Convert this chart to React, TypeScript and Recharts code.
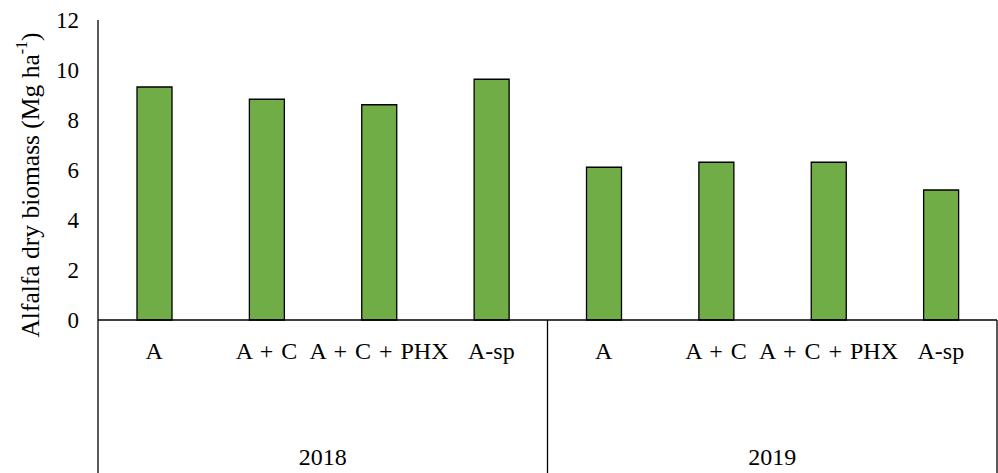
import { BarChart, Bar, XAxis, YAxis } from "recharts";

const treatments = ["A", "A + C", "A + C + PHX", "A-sp"];
const years = ["2018", "2019"];
const biomass2018 = [9.32, 8.83, 8.61, 9.63];
const biomass2019 = [6.11, 6.31, 6.31, 5.2];
const biomassByYear = [biomass2018, biomass2019];
const yTicks = [0, 2, 4, 6, 8, 10, 12];

const data = years.flatMap((year, i) =>
    treatments.map((name, j) => ({ name, year, biomass: biomassByYear[i][j] }))
);

const groupSize = treatments.length;

const W = 998;
const H = 473;
const TOP = 20;
const BOTTOM_AREA = 153;
const PLOT_BOTTOM = H - BOTTOM_AREA;
const FONT = "'Liberation Serif', 'Times New Roman', serif";

// category label plus, at group edges, the divider lines and year label
const CategoryTick = (props: any) => {
    const { x, y, payload, index } = props;
    const half = payload.offset || 0;
    const left = x - half;
    const right = x + half;
    const first = index % groupSize === 0;
    const last = index === data.length - 1;
    return (
        <g>
            <text x={x} y={y} dy="0.71em" textAnchor="middle" fontFamily={FONT} fontSize={24} wordSpacing={2} fill="#000">
                {payload.value}
            </text>
            {first && <line x1={left} x2={left} y1={PLOT_BOTTOM} y2={H} stroke="#000" strokeWidth={1.3} />}
            {last && <line x1={right} x2={right} y1={PLOT_BOTTOM} y2={H} stroke="#000" strokeWidth={1.3} />}
            {first && (
                <text x={left + half * groupSize} y={H - 8} textAnchor="middle" fontFamily={FONT} fontSize={24} fill="#000">
                    {data[index].year}
                </text>
            )}
        </g>
    );
};

const YTitle = (props: any) => {
    const { viewBox } = props;
    const cx = viewBox.x - 8;
    const cy = viewBox.y + viewBox.height / 2 + 15;
    return (
        <text
            x={cx}
            y={cy}
            transform={`rotate(-90 ${cx} ${cy})`}
            textAnchor="middle"
            dominantBaseline="central"
            fontFamily={FONT}
            fontSize={25.5}
            fill="#000"
        >
            Alfalfa dry biomass (Mg ha
            <tspan dy={-9} fontSize={16}>-1</tspan>
            <tspan dy={9}>)</tspan>
        </text>
    );
};

export default function App() {
    return (
        <div style={{ position: "absolute", left: 0, top: 0, width: W, height: H, background: "#fff" }}>
            <BarChart
                width={W}
                height={H}
                data={data}
                margin={{ top: TOP, right: 1, left: 38, bottom: 0 }}
            >
                <XAxis
                    dataKey="name"
                    height={BOTTOM_AREA}
                    axisLine={{ stroke: "#000", strokeWidth: 1.3 }}
                    tickLine={false}
                    tickSize={0}
                    tickMargin={22}
                    interval={0}
                    tick={<CategoryTick />}
                />
                <YAxis
                    width={60}
                    domain={[0, 12]}
                    ticks={yTicks}
                    interval={0}
                    axisLine={{ stroke: "#000", strokeWidth: 1.3 }}
                    tickLine={false}
                    tickSize={0}
                    tickMargin={19}
                    tick={{ fill: "#000", fontFamily: FONT, fontSize: 23 }}
                    label={<YTitle />}
                />
                <Bar
                    dataKey="biomass"
                    barSize={35}
                    fill="#70AD47"
                    stroke="#000"
                    strokeWidth={1.3}
                    isAnimationActive={false}
                />
            </BarChart>
        </div>
    );
}
